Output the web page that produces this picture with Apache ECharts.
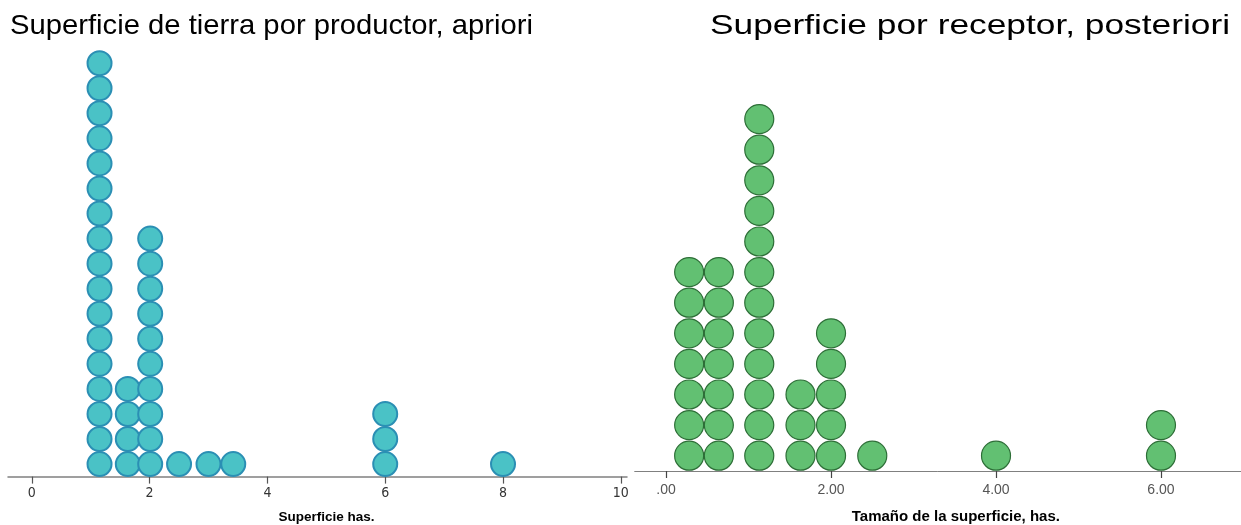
<!DOCTYPE html>
<html>
<head>
<meta charset="utf-8">
<script src="https://cdn.jsdelivr.net/npm/echarts@6/dist/echarts.min.js"></script>
<style>
html,body{margin:0;padding:0;background:#fff;}
#chart{width:1241px;height:525px;}
</style>
</head>
<body>
<div id="chart"></div>
<script>
// ---- data ----
const leftTitle = 'Superficie de tierra por productor, apriori';
const rightTitle = 'Superficie por receptor, posteriori';
const leftAxisName = 'Superficie has.';
const rightAxisName = 'Tamaño de la superficie, has.';
const leftPositions = [1.15, 1.63, 2.01, 2.5, 3.0, 3.42, 6.0, 8.0];
const leftCounts = [17, 4, 10, 1, 1, 1, 3, 1];
const rightPositions = [0.28, 0.64, 1.13, 1.63, 2.0, 2.5, 4.0, 6.0];
const rightCounts = [7, 7, 12, 3, 5, 1, 1, 2];
const leftTickValues = [0, 2, 4, 6, 8, 10];
const leftTickLabels = ['0', '2', '4', '6', '8', '10'];
const rightTickValues = [0, 2, 4, 6];
const rightTickLabels = ['.00', '2.00', '4.00', '6.00'];

function stackDots(positions, counts) {
  const out = [];
  positions.forEach((x, i) => {
    for (let k = 0; k < counts[i]; k++) out.push([x, k]);
  });
  return out;
}
function fitScale(text, font, width) {
  const ctx = document.createElement('canvas').getContext('2d');
  ctx.font = font;
  return width / ctx.measureText(text).width;
}
function labelFor(values, labels) {
  return v => { const i = values.indexOf(Math.round(v * 1000) / 1000); return i >= 0 ? labels[i] : ''; };
}

const titleFont = '28px "Liberation Sans", Arial, sans-serif';
const chart = echarts.init(document.getElementById('chart'), null, {renderer: 'canvas'});

chart.setOption({
  backgroundColor: '#ffffff',
  animation: false,
  graphic: [
    {type: 'text', x: 10, y: 26, scaleX: fitScale(leftTitle, titleFont, 523), scaleY: 1,
     style: {text: leftTitle, font: titleFont, fill: '#000', textVerticalAlign: 'middle', verticalAlign: 'middle'}},
    {type: 'text', x: 710, y: 26, scaleX: fitScale(rightTitle, titleFont, 520), scaleY: 1,
     style: {text: rightTitle, font: titleFont, fill: '#000', textVerticalAlign: 'middle', verticalAlign: 'middle'}}
  ],
  grid: [
    {left: 8, width: 619, top: 25.6, bottom: 48.4, containLabel: false, outerBoundsMode: 'none'},
    {left: 634.7, right: 0, top: 42.6, bottom: 54, containLabel: false, outerBoundsMode: 'none'}
  ],
  xAxis: [
    {
      gridIndex: 0, type: 'value', min: -0.404, max: 10.105,
      name: leftAxisName, nameLocation: 'middle', nameGap: 34,
      nameTextStyle: {fontFamily: '"Liberation Sans", Arial, sans-serif', fontWeight: 'bold', fontSize: 13.5, color: '#000', padding: [0, 0, 0, 18]},
      axisLine: {show: true, onZero: false, lineStyle: {color: '#808080', width: 1.5}},
      axisTick: {show: true, length: 7, customValues: leftTickValues, lineStyle: {color: '#555', width: 1.2}},
      axisLabel: {show: true, customValues: leftTickValues, formatter: labelFor(leftTickValues, leftTickLabels), margin: 10,
        fontFamily: '"Liberation Sans Narrow", "DejaVu Sans Condensed", sans-serif', fontSize: 14, color: '#333'},
      splitLine: {show: false}
    },
    {
      gridIndex: 1, type: 'value', min: -0.38, max: 6.97,
      name: rightAxisName, nameLocation: 'middle', nameGap: 38,
      nameTextStyle: {fontFamily: '"Liberation Sans", Arial, sans-serif', fontWeight: 'bold', fontSize: 15, color: '#000', padding: [0, 0, 0, 36]},
      axisLine: {show: true, onZero: false, lineStyle: {color: '#808080', width: 1}},
      axisTick: {show: true, length: 7, customValues: rightTickValues, lineStyle: {color: '#444', width: 1.2}},
      axisLabel: {show: true, customValues: rightTickValues, formatter: labelFor(rightTickValues, rightTickLabels), margin: 12,
        fontFamily: '"Liberation Sans", Arial, sans-serif', fontSize: 14, color: '#555'},
      splitLine: {show: false}
    }
  ],
  yAxis: [
    {gridIndex: 0, type: 'value', min: -0.5, max: 17.5, show: false},
    {gridIndex: 1, type: 'value', min: -0.5, max: 13.5, show: false}
  ],
  series: [
    {
      type: 'scatter', xAxisIndex: 0, yAxisIndex: 0, symbol: 'circle', symbolSize: 24,
      data: stackDots(leftPositions, leftCounts),
      itemStyle: {color: '#4ac2c6', borderColor: '#2b8fb4', borderWidth: 2, opacity: 1},
      emphasis: {disabled: true}
    },
    {
      type: 'scatter', xAxisIndex: 1, yAxisIndex: 1, symbol: 'circle', symbolSize: 29,
      data: stackDots(rightPositions, rightCounts),
      itemStyle: {color: '#62c072', borderColor: '#2d6e37', borderWidth: 1.2, opacity: 1},
      emphasis: {disabled: true}
    }
  ]
});
</script>
</body>
</html>
